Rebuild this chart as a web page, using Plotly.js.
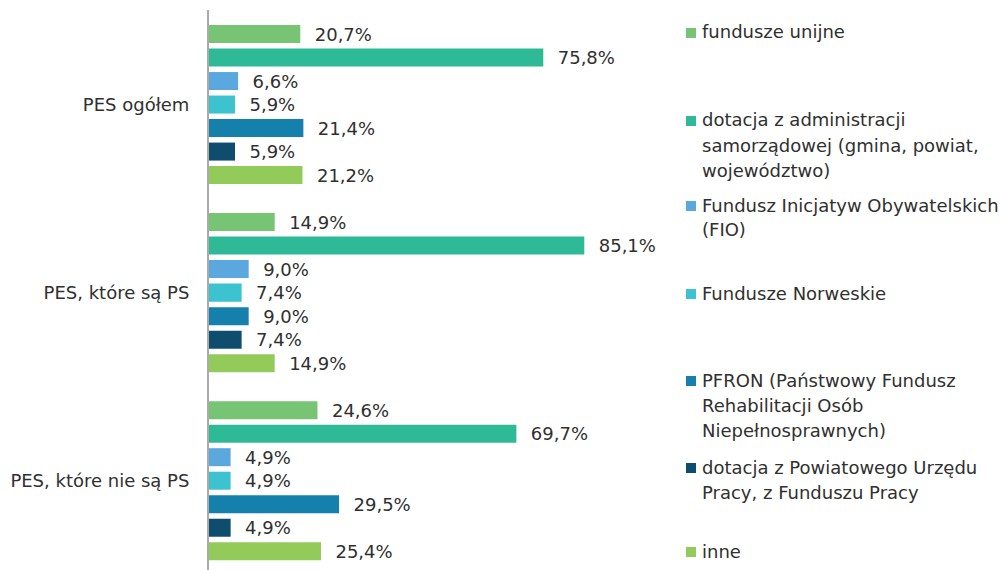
<!DOCTYPE html>
<html>
<head>
<meta charset="utf-8">
<script src="https://cdn.plot.ly/plotly-3.0.1.min.js"></script>
<style>html,body{margin:0;padding:0;background:#fff;}#chart{width:1001px;height:570px;}</style>
</head>
<body>
<div id="chart"></div>
<script>
// ---- data ----
var categories = ['PES ogółem', 'PES, które są PS', 'PES, które nie są PS'];
var seriesNames = [
  'fundusze unijne',
  'dotacja z administracji<br>samorządowej (gmina, powiat,<br>województwo)',
  'Fundusz Inicjatyw Obywatelskich<br>(FIO)',
  'Fundusze Norweskie',
  'PFRON (Państwowy Fundusz<br>Rehabilitacji Osób<br>Niepełnosprawnych)',
  'dotacja z Powiatowego Urzędu<br>Pracy, z Funduszu Pracy',
  'inne'
];
var fundusze_unijne   = [20.7, 14.9, 24.6];
var dotacja_adm       = [75.8, 85.1, 69.7];
var fio               = [6.6, 9.0, 4.9];
var norweskie         = [5.9, 7.4, 4.9];
var pfron             = [21.4, 9.0, 29.5];
var pup               = [5.9, 7.4, 4.9];
var inne              = [21.2, 14.9, 25.4];
var seriesValues = [fundusze_unijne, dotacja_adm, fio, norweskie, pfron, pup, inne];
var seriesColors = ['#78C475', '#2EBA96', '#5AA8DE', '#3DC2CF', '#1680AC', '#0E4D6E', '#93CB5A'];

// ---- layout constants ----
var W = 1001, H = 570;
var ML = 209, MR = 331, MT = 10, MB = 0;
var PW = W - ML - MR, PH = H - MT - MB;
var FONT = 'DejaVu Sans, Verdana, sans-serif';
var TXT = '#303030';

function fmt(v) { return '\u00A0\u00A0' + v.toFixed(1).replace('.', ',') + '%'; }
function px2x(px) { return (px - ML) / PW; }
function py2y(py) { return 1 - (py - MT) / PH; }

var traces = seriesValues.map(function (vals, i) {
  return {
    type: 'bar',
    orientation: 'h',
    name: seriesNames[i],
    y: categories,
    x: vals,
    text: vals.map(fmt),
    textposition: 'outside',
    textfont: {family: FONT, size: 18, color: TXT},
    constraintext: 'none',
    cliponaxis: false,
    marker: {color: seriesColors[i]},
    hoverinfo: 'skip'
  };
});

// custom legend (positions of each entry's first line, in pixels)
var legendLineY = [32, 120, 205, 293, 380, 467, 551];
var LINE = 25;
var annotations = [];
var shapes = [];
seriesNames.forEach(function (name, i) {
  var lines = name.split('<br>');
  lines.forEach(function (ln, k) {
    annotations.push({
      xref: 'paper', yref: 'paper',
      x: px2x(700), y: py2y(legendLineY[i] + k * LINE),
      xanchor: 'left', yanchor: 'middle',
      text: ln, showarrow: false,
      font: {family: FONT, size: 18, color: TXT}
    });
  });
  var cy = legendLineY[i] + 1;
  shapes.push({
    type: 'rect', xref: 'paper', yref: 'paper',
    x0: px2x(686), x1: px2x(696), y0: py2y(cy - 5), y1: py2y(cy + 5),
    fillcolor: seriesColors[i], line: {width: 0}
  });
});

var layout = {
  width: W, height: H,
  margin: {l: ML, r: MR, t: MT, b: MB, pad: 0},
  paper_bgcolor: '#ffffff', plot_bgcolor: '#ffffff',
  barmode: 'group',
  bargap: 0.125,
  bargroupgap: 0.234,
  showlegend: false,
  font: {family: FONT, size: 18, color: TXT},
  xaxis: {
    range: [0, PW / 4.41],
    showgrid: false, zeroline: false, showline: false,
    showticklabels: false, ticks: ''
  },
  yaxis: {
    type: 'category',
    categoryorder: 'array', categoryarray: categories,
    range: [2 + (H - MB - 480.75) / 188, -(104.5 - MT) / 188],
    showgrid: false, zeroline: false,
    showline: true, linecolor: '#aaaaaa', linewidth: 2,
    ticks: 'outside', ticklen: 14, tickcolor: 'rgba(0,0,0,0)',
    tickfont: {family: FONT, size: 18, color: TXT}
  },
  annotations: annotations,
  shapes: shapes
};

Plotly.newPlot('chart', traces, layout, {displayModeBar: false, staticPlot: true});
</script>
</body>
</html>
